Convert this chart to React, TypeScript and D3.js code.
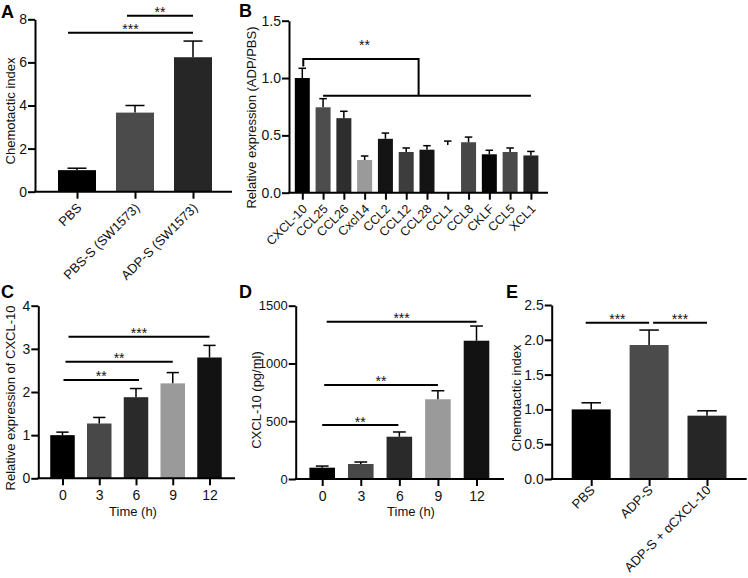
import React, { useEffect, useRef } from 'react';
import * as d3 from 'd3';

// A: chemotactic index
const aGroups = ['PBS', 'PBS-S (SW1573)', 'ADP-S (SW1573)'];
const aMeans = [1.0, 3.67, 6.24];
const aErrors = [0.09, 0.33, 0.75];
const aColors = ['#000000', '#4b4b4b', '#262626'];
const aTicks = [0, 2, 4, 6, 8];

// B: chemokine panel
const bGenes = ['CXCL-10', 'CCL25', 'CCL26', 'Cxcl14', 'CCL2', 'CCL12', 'CCL28', 'CCL1', 'CCL8', 'CKLF', 'CCL5', 'XCL1'];
const bMeans = [1.0, 0.745, 0.65, 0.285, 0.47, 0.355, 0.375, 0.415, 0.44, 0.335, 0.355, 0.325];
const bErrors = [0.085, 0.075, 0.06, 0.035, 0.05, 0.035, 0.035, 0.035, 0.045, 0.035, 0.035, 0.035];
const bColors = ['#000000', '#4d4d4d', '#2e2e2e', '#9a9a9a', '#141414', '#3d3d3d', '#141414', '#ffffff', '#474747', '#050505', '#4a4a4a', '#262626'];
const bTicks = [0, 0.5, 1.0, 1.5];

// C / D: time course
const timePoints = ['0', '3', '6', '9', '12'];
const timeColors = ['#000000', '#484848', '#2a2a2a', '#9a9a9a', '#121212'];
const cMeans = [1.0, 1.27, 1.88, 2.2, 2.8];
const cErrors = [0.07, 0.14, 0.2, 0.25, 0.28];
const cTicks = [0, 1, 2, 3, 4];
const dMeans = [98, 130, 366, 690, 1197];
const dErrors = [14, 17, 41, 74, 127];
const dTicks = [0, 500, 1000, 1500];

// E: blocking
const eGroups = ['PBS', 'ADP-S', 'ADP-S + \u03b1CXCL-10'];
const eMeans = [1.0, 1.925, 0.91];
const eErrors = [0.095, 0.215, 0.07];
const eColors = ['#000000', '#4b4b4b', '#262626'];
const eTicks = [0, 0.5, 1.0, 1.5, 2.0, 2.5];

const FONT = "'Liberation Sans', Arial, Helvetica, sans-serif";

type Sig = { from: number; to: number; value: number; label: string; dx0: number; dx1: number };

type Panel = {
  letter: string; letterX: number; letterY: number;
  cats: string[]; means: number[]; errors: number[]; colors: string[];
  ticks: number[]; fmt: (v: number) => string; yMax: number; yPix: [number, number];
  centers: [number, number]; barW: number; axisX: [number, number];
  yLabel: string; yLabelX: number; yLabelY: number;
  xTitle?: string; xTitleX?: number;
  rotate: boolean; rotShift?: [number, number]; xFont: number; tickFont: number;
  sigs: Sig[];
};

const panels: Panel[] = [
  {
    letter: 'A', letterX: 1, letterY: 17.5,
    cats: aGroups, means: aMeans, errors: aErrors, colors: aColors,
    ticks: aTicks, fmt: d3.format('d'), yMax: 8, yPix: [191.7, 19.3],
    centers: [77, 193], barW: 38, axisX: [35, 232],
    yLabel: 'Chemotactic index', yLabelX: 14.5, yLabelY: 111,
    rotate: true, rotShift: [5, 17], xFont: 13, tickFont: 14,
    sigs: [
      { from: 0, to: 2, value: 7.38, label: '***', dx0: -9, dx1: 0 },
      { from: 1, to: 2, value: 8.17, label: '**', dx0: -8, dx1: 0 },
    ],
  },
  {
    letter: 'B', letterX: 239, letterY: 17,
    cats: bGenes, means: bMeans, errors: bErrors, colors: bColors,
    ticks: bTicks, fmt: d3.format('.1f'), yMax: 1.5, yPix: [192.7, 20.7],
    centers: [302.3, 530.9], barW: 15, axisX: [289, 548],
    yLabel: 'Relative expression (ADP/PBS)', yLabelX: 256, yLabelY: 117.5,
    rotate: true, rotShift: [5, 17], xFont: 12.5, tickFont: 14,
    sigs: [],
  },
  {
    letter: 'C', letterX: 1, letterY: 297.5,
    cats: timePoints, means: cMeans, errors: cErrors, colors: timeColors,
    ticks: cTicks, fmt: d3.format('d'), yMax: 4, yPix: [478.3, 305.7],
    centers: [62.5, 209.5], barW: 24.5, axisX: [38.3, 235],
    yLabel: 'Relative expression of CXCL-10', yLabelX: 15, yLabelY: 398,
    xTitle: 'Time (h)', xTitleX: 133,
    rotate: false, xFont: 14, tickFont: 14,
    sigs: [
      { from: 0, to: 4, value: 3.28, label: '***', dx0: 6, dx1: 0 },
      { from: 0, to: 3, value: 2.7, label: '**', dx0: 3, dx1: 0 },
      { from: 0, to: 2, value: 2.28, label: '**', dx0: 1, dx1: 3 },
    ],
  },
  {
    letter: 'D', letterX: 239, letterY: 297.5,
    cats: timePoints, means: dMeans, errors: dErrors, colors: timeColors,
    ticks: dTicks, fmt: d3.format('d'), yMax: 1500, yPix: [479, 305.7],
    centers: [322.2, 476.5], barW: 25.6, axisX: [295.7, 504],
    yLabel: 'CXCL-10 (pg/ml)', yLabelX: 261, yLabelY: 400,
    xTitle: 'Time (h)', xTitleX: 411,
    rotate: false, xFont: 14, tickFont: 13,
    sigs: [
      { from: 0, to: 4, value: 1361, label: '***', dx0: 4.5, dx1: 0 },
      { from: 0, to: 3, value: 814, label: '**', dx0: 2, dx1: 0 },
      { from: 0, to: 2, value: 467, label: '**', dx0: 0, dx1: -1 },
    ],
  },
  {
    letter: 'E', letterX: 506, letterY: 297.5,
    cats: eGroups, means: eMeans, errors: eErrors, colors: eColors,
    ticks: eTicks, fmt: d3.format('.1f'), yMax: 2.5, yPix: [479, 305],
    centers: [591.2, 707], barW: 39, axisX: [551.7, 746.7],
    yLabel: 'Chemotactic index', yLabelX: 520.5, yLabelY: 398,
    rotate: true, rotShift: [4, 12], xFont: 13, tickFont: 14,
    sigs: [
      { from: 0, to: 1, value: 2.246, label: '***', dx0: -5.5, dx1: 0 },
      { from: 1, to: 2, value: 2.246, label: '***', dx0: 4, dx1: 0 },
    ],
  },
];

function drawPanel(svg: any, p: Panel) {
  const g = svg.append('g');
  const x = d3.scalePoint<string>().domain(p.cats).range(p.centers);
  const y = d3.scaleLinear().domain([0, p.yMax]).range(p.yPix);
  const cx = (i: number) => x(p.cats[i]) as number;

  // bars
  g.selectAll('rect.bar').data(p.means).join('rect')
    .attr('x', (d: number, i: number) => cx(i) - p.barW / 2)
    .attr('width', p.barW)
    .attr('y', (d: number) => y(d))
    .attr('height', (d: number) => y(0) - y(d))
    .attr('fill', (d: number, i: number) => p.colors[i]);

  // upper error bars
  const eb = g.append('g').attr('stroke', '#000').attr('stroke-width', 1.5).attr('fill', 'none');
  p.means.forEach((m, i) => {
    const top = y(m + p.errors[i]);
    eb.append('line').attr('x1', cx(i)).attr('x2', cx(i)).attr('y1', y(m)).attr('y2', top);
    eb.append('line').attr('x1', cx(i) - p.barW / 4).attr('x2', cx(i) + p.barW / 4).attr('y1', top).attr('y2', top);
  });

  // y axis
  const ya = g.append('g').attr('transform', `translate(${p.axisX[0]},0)`)
    .call(d3.axisLeft(y).tickValues(p.ticks).tickFormat(p.fmt as any).tickSize(7).tickSizeOuter(0).tickPadding(1));
  ya.select('.domain').attr('stroke-width', 2);
  ya.selectAll('.tick line').attr('stroke-width', 2);
  ya.selectAll('text').attr('font-size', p.tickFont).attr('font-family', FONT).attr('fill', '#111');

  // x axis
  const xa = g.append('g').attr('transform', `translate(0,${y(0)})`)
    .call(d3.axisBottom(x).tickSize(7).tickSizeOuter(0).tickPadding(5));
  xa.select('.domain').remove();
  xa.selectAll('.tick line').attr('stroke-width', 2);
  const xt = xa.selectAll('text').attr('font-size', p.xFont).attr('font-family', FONT).attr('fill', '#111');
  if (p.rotate && p.rotShift) {
    xt.attr('x', null).attr('y', null).attr('dy', null)
      .attr('text-anchor', 'end')
      .attr('transform', `translate(${p.rotShift[0]},${p.rotShift[1]}) rotate(-45)`);
  }
  g.append('line').attr('x1', p.axisX[0] - 1).attr('x2', p.axisX[1]).attr('y1', y(0)).attr('y2', y(0))
    .attr('stroke', '#000').attr('stroke-width', 2);

  // significance lines
  p.sigs.forEach(s => {
    const x0 = cx(s.from) + s.dx0;
    const x1 = cx(s.to) + s.dx1;
    const ly = y(s.value);
    g.append('line').attr('x1', x0).attr('x2', x1).attr('y1', ly).attr('y2', ly)
      .attr('stroke', '#000').attr('stroke-width', 2);
    g.append('text').attr('x', (x0 + x1) / 2).attr('y', ly + 1.5).attr('text-anchor', 'middle')
      .attr('font-size', 14).attr('font-family', FONT).attr('fill', '#111').text(s.label);
  });

  // titles
  g.append('text').attr('transform', `translate(${p.yLabelX},${p.yLabelY}) rotate(-90)`)
    .attr('text-anchor', 'middle').attr('font-size', 13).attr('font-family', FONT).attr('fill', '#111').text(p.yLabel);
  if (p.xTitle) {
    g.append('text').attr('x', p.xTitleX).attr('y', 516).attr('text-anchor', 'middle')
      .attr('font-size', 13).attr('font-family', FONT).attr('fill', '#111').text(p.xTitle);
  }
  g.append('text').attr('x', p.letterX).attr('y', p.letterY).attr('font-size', 18).attr('font-weight', 700)
    .attr('font-family', FONT).attr('fill', '#000').text(p.letter);

  return { x, y, g };
}

export default function App() {
  const ref = useRef<SVGSVGElement>(null);

  useEffect(() => {
    const svg = d3.select(ref.current);
    svg.selectAll('*').remove();
    const drawn = panels.map(p => drawPanel(svg, p));

    // B: bracket CXCL-10 vs the rest
    const { x, y, g } = drawn[1];
    const c = (k: string) => x(k) as number;
    const topY = y(1.167);
    const lowY = y(0.846);
    const bx = (c('CCL12') + c('CCL28')) / 2 + 2;
    const path = d3.path();
    path.moveTo(c('CXCL-10') + 1, y(1.1));
    path.lineTo(c('CXCL-10') + 1, topY);
    path.lineTo(bx, topY);
    path.lineTo(bx, lowY);
    path.moveTo(c('CCL25'), lowY);
    path.lineTo(c('XCL1'), lowY);
    g.append('path').attr('d', path.toString()).attr('fill', 'none').attr('stroke', '#000').attr('stroke-width', 2);
    g.append('text').attr('x', (c('CXCL-10') + bx) / 2 + 4).attr('y', topY - 9).attr('text-anchor', 'middle')
      .attr('font-size', 14).attr('font-family', FONT).attr('fill', '#111').text('**');
  }, []);

  return (
    <svg ref={ref} width={748} height={578}
      style={{ position: 'absolute', left: 0, top: 0, background: '#fff' }} />
  );
}
